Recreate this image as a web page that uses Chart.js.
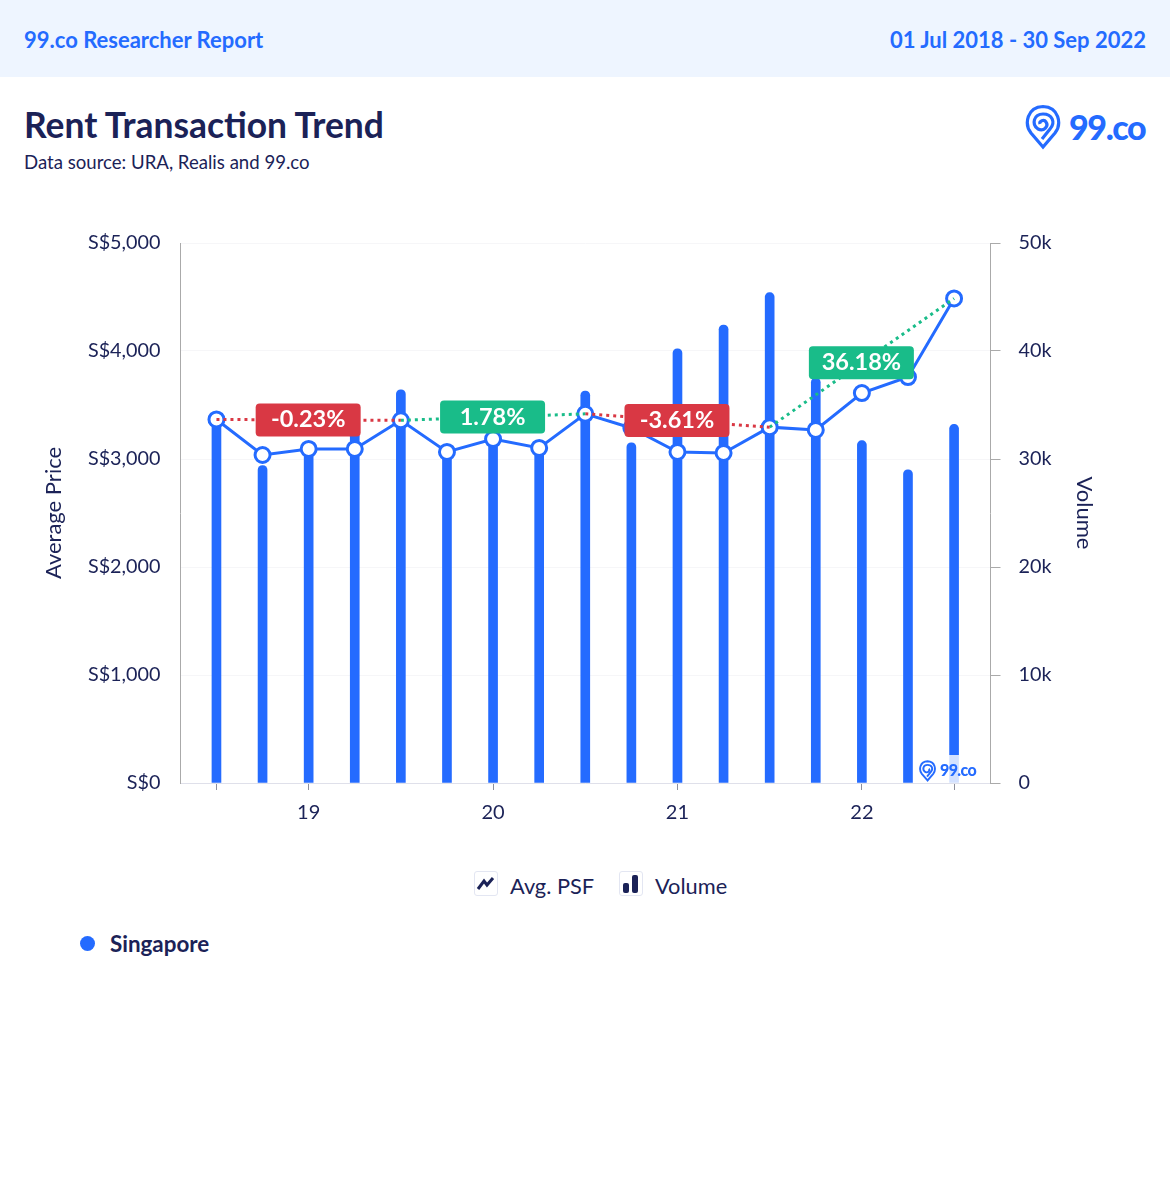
<!DOCTYPE html>
<html>
<head>
<meta charset="utf-8">
<title>Rent Transaction Trend</title>
<script src="https://cdn.jsdelivr.net/npm/chart.js@4"></script>
<style>
  * { box-sizing: border-box; }
  html, body { margin: 0; padding: 0; background: #fff; }
  body { width: 1170px; height: 1200px; position: relative; overflow: hidden; font-family: Lato, sans-serif; color: #1b2257; }
  .band { position: absolute; left: 0; top: 0; width: 1170px; height: 77px; background: #eef5ff; }
  .band span { position: absolute; top: 25px; font-size: 22px; line-height: 30px; font-weight: 700; color: #246bff; }
  .band .l { left: 24px; }
  .band .r { right: 24px; }
  h1 { position: absolute; left: 24px; top: 103px; margin: 0; font-size: 35.4px; line-height: 44px; font-weight: 700; }
  .src { position: absolute; left: 24px; top: 150px; font-size: 18.6px; line-height: 24px; }
  .logo { position: absolute; left: 1025px; top: 104px; width: 125px; height: 46px; }
  .logo b, .mark b { position: absolute; color: #246bff; font-weight: 900; }
  .logo b { left: 44px; top: 1px; font-size: 34px; line-height: 44px; letter-spacing: -1.4px; }
  .wrap { position: absolute; left: 0; top: 200px; width: 1170px; height: 660px; }
  .mark { position: absolute; left: 915px; top: 755px; width: 69px; height: 28px; background: rgba(255,255,255,.8); }
  .mark svg { position: absolute; left: 4px; top: 5px; }
  .mark b { left: 25px; top: 4px; font-size: 16px; line-height: 22px; letter-spacing: -.6px; }
  .lg { position: absolute; top: 872px; font-size: 21.8px; line-height: 28px; }
  .ico { position: absolute; top: 871px; width: 24px; height: 25px; border: 1px solid #e3e6f2; border-radius: 3px; background: #fff; }
  .dot { position: absolute; left: 80px; top: 936px; width: 15px; height: 15px; border-radius: 50%; background: #246bff; }
  .sg { position: absolute; left: 110px; top: 930px; font-size: 22.4px; line-height: 28px; font-weight: 700; }
</style>
</head>
<body>
<div class="band"><span class="l">99.co Researcher Report</span><span class="r">01 Jul 2018 - 30 Sep 2022</span></div>
<h1>Rent Transaction Trend</h1>
<div class="src">Data source: URA, Realis and 99.co</div>
<div class="logo">
  <svg width="38" height="46" viewBox="0 0 38 46" fill="none" stroke="#246bff" stroke-width="3.2">
    <path d="M18 43 L6 29 C-1 20 2 3 18 2.5 C34 3 37 20 30 29 Z"/>
    <path d="M17 35 L25 25 C31 18 27 10 18 10 C9 10 6 20 13 25 C19 28 24 22 21 18 C19 15 14 17 15 20"/>
  </svg>
  <b>99.co</b>
</div>
<div class="wrap"><canvas id="rent-chart"></canvas></div>
<div class="mark">
  <svg width="18" height="22" viewBox="0 0 38 46" fill="none" stroke="#246bff" stroke-width="4">
    <path d="M18 43 L6 29 C-1 20 2 3 18 2.5 C34 3 37 20 30 29 Z"/>
    <path d="M17 35 L25 25 C31 18 27 10 18 10 C9 10 6 20 13 25 C19 28 24 22 21 18"/>
  </svg>
  <b>99.co</b>
</div>
<div class="ico" style="left:474px">
  <svg width="22" height="23" viewBox="0 0 22 23" fill="none" stroke="#1b2257" stroke-width="3"><path d="M3 17 L9 9 L12 13 L18 6"/></svg>
</div>
<div class="lg" style="left:510px">Avg. PSF</div>
<div class="ico" style="left:619px">
  <svg width="22" height="23" viewBox="0 0 22 23" fill="#1b2257"><rect x="3" y="11" width="6" height="10" rx="2"/><rect x="12" y="3" width="6" height="18" rx="2"/></svg>
</div>
<div class="lg" style="left:655px">Volume</div>
<div class="dot"></div>
<div class="sg">Singapore</div>

<script>
// data
const quarters = ["18Q3", "18Q4", "19Q1", "19Q2", "19Q3", "19Q4", "20Q1", "20Q2", "20Q3", "20Q4", "21Q1", "21Q2", "21Q3", "21Q4", "22Q1", "22Q2", "22Q3"];
const avgPsf = [3366, 3037, 3093, 3093, 3358, 3065, 3185, 3102, 3418, 3287, 3065, 3056, 3295, 3269, 3611, 3759, 4487];
const volume = [33500, 29400, 31000, 32500, 36400, 30500, 31500, 30800, 36300, 31500, 40200, 42400, 45400, 37500, 31700, 29000, 33200];
const xTickLabels = ["", "", "19", "", "", "", "20", "", "", "", "21", "", "", "", "22", "", ""];
const xTickIndexes = [0, 2, 6, 10, 14, 16];
const priceTicks = [0, 1000, 2000, 3000, 4000, 5000];
const volumeTicks = [0, 10000, 20000, 30000, 40000, 50000];
const trendStart = [0, 4, 8, 12];
const trendEnd = [4, 8, 12, 16];
const trendText = ["-0.23%", "1.78%", "-3.61%", "36.18%"];

const BLUE = "#246bff";
const INK = "#1b2257";
const RED = "#d93844";
const GREEN = "#19bc89";
const FONT = "Lato, sans-serif";

function xy(values) {
  return values.map((v, i) => ({ x: i, y: v }));
}

function trendColor(i) {
  return avgPsf[trendEnd[i]] >= avgPsf[trendStart[i]] ? GREEN : RED;
}

const trendSets = trendStart.map((s, i) => ({
  type: "line",
  yAxisID: "y",
  order: 1,
  data: [{ x: s, y: avgPsf[s] }, { x: trendEnd[i], y: avgPsf[trendEnd[i]] }],
  borderColor: trendColor(i),
  borderWidth: 3,
  borderDash: [3, 4],
  pointRadius: 0,
}));

// the % badges sit on the middle of each dotted line
const badges = {
  id: "badges",
  afterDatasetsDraw(chart) {
    const { ctx, scales } = chart;
    trendStart.forEach((s, i) => {
      const e = trendEnd[i];
      const cx = scales.x.getPixelForValue((s + e) / 2);
      const cy = (scales.y.getPixelForValue(avgPsf[s]) + scales.y.getPixelForValue(avgPsf[e])) / 2;
      ctx.save();
      ctx.fillStyle = trendColor(i);
      ctx.beginPath();
      ctx.roundRect(cx - 53, cy - 16.5, 105, 33, 4);
      ctx.fill();
      ctx.fillStyle = "#fff";
      ctx.font = "700 23.5px " + FONT;
      ctx.textAlign = "center";
      ctx.textBaseline = "middle";
      ctx.fillText(trendText[i], cx - 0.5, cy);
      ctx.restore();
    });
  },
};

new Chart(document.getElementById("rent-chart"), {
  data: {
    datasets: [
      {
        type: "bar",
        label: "Volume",
        yAxisID: "y2",
        order: 3,
        data: xy(volume),
        backgroundColor: BLUE,
        barThickness: 9,
        borderRadius: 4.5,
      },
      {
        type: "line",
        label: "Avg. PSF",
        yAxisID: "y",
        order: 2,
        data: xy(avgPsf),
        borderColor: BLUE,
        borderWidth: 3,
        tension: 0,
        pointRadius: 7.5,
        pointBorderWidth: 3,
        pointBorderColor: BLUE,
        pointBackgroundColor: "#fff",
      },
      ...trendSets,
    ],
  },
  options: {
    responsive: true,
    maintainAspectRatio: false,
    animation: false,
    layout: { padding: { top: 43, bottom: 0, left: 0, right: 0 } },
    plugins: { legend: { display: false }, tooltip: { enabled: false } },
    scales: {
      x: {
        type: "linear",
        offset: false,
        min: -0.78,
        max: 16.79,
        afterBuildTicks(axis) {
          axis.ticks = xTickIndexes.map((v) => ({ value: v }));
        },
        afterFit(axis) {
          axis.height = 617 - 540;
        },
        grid: { offset: false, drawOnChartArea: false, tickLength: 7, tickColor: "#8d8f9c" },
        border: { color: "#dfe0ea", width: 1 },
        ticks: {
          autoSkip: false,
          maxRotation: 0,
          padding: 11,
          color: INK,
          font: { family: FONT, size: 20 },
          callback: (v) => xTickLabels[v],
        },
      },
      y: {
        position: "left",
        min: 0,
        max: 5000,
        afterBuildTicks(axis) {
          axis.ticks = priceTicks.map((v) => ({ value: v }));
        },
        afterFit(axis) {
          axis.width = 180.5;
        },
        grid: { color: "#f6f6f8", drawTicks: false },
        border: { color: "#aaaaaa", width: 1 },
        ticks: {
          padding: 20,
          color: INK,
          font: { family: FONT, size: 19.8 },
          callback: (v) => "S$" + v.toLocaleString("en-US"),
        },
        title: {
          display: true,
          text: "Average Price",
          color: INK,
          font: { family: FONT, size: 22 },
          padding: { top: 41, bottom: 0 },
        },
      },
      y2: {
        position: "right",
        min: 0,
        max: 50000,
        afterBuildTicks(axis) {
          axis.ticks = volumeTicks.map((v) => ({ value: v }));
        },
        afterFit(axis) {
          axis.width = 179.5;
        },
        grid: { drawOnChartArea: false, tickLength: 10, tickColor: "#aaaaaa" },
        border: { color: "#aaaaaa", width: 1 },
        ticks: {
          padding: 18,
          color: INK,
          font: { family: FONT, size: 19.8 },
          callback: (v) => (v === 0 ? "0" : v / 1000 + "k"),
        },
        title: {
          display: true,
          text: "Volume",
          color: INK,
          font: { family: FONT, size: 22 },
          padding: { top: 73, bottom: 0 },
        },
      },
    },
  },
  plugins: [badges],
});
</script>
</body>
</html>
